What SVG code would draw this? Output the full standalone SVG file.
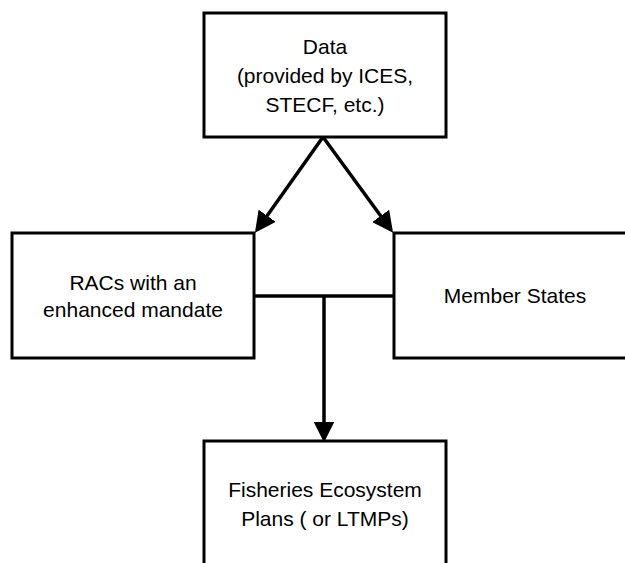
<svg xmlns="http://www.w3.org/2000/svg" width="625" height="563" viewBox="0 0 625 563">
<style>
.box{fill:#fff;stroke:#000;stroke-width:3}
.t{font-family:"Liberation Sans",Arial,sans-serif;font-size:21px;fill:#000;text-anchor:middle}
.c{stroke:#000;stroke-width:3.5;fill:none}
</style>
<defs>
<marker id="ah" markerWidth="6" markerHeight="6" refX="5" refY="3" orient="auto" markerUnits="strokeWidth">
<path d="M0,0 L6,3 L0,6 Z" fill="#000"/>
</marker>
</defs>
<rect width="625" height="563" fill="#fff"/>
<g id="data">
<rect class="box" x="204" y="13" width="242" height="124"/>
<text class="t" x="325" y="54">Data</text>
<text class="t" x="325" y="83">(provided by ICES,</text>
<text class="t" x="325" y="112">STECF, etc.)</text>
</g>
<g id="racs">
<rect class="box" x="12" y="233" width="242" height="125"/>
<text class="t" x="133" y="290">RACs with an</text>
<text class="t" x="133" y="317">enhanced mandate</text>
</g>
<g id="ms">
<path class="box" d="M640,233 H394 V358 H640"/>
<text class="t" x="515" y="303">Member States</text>
</g>
<g id="fep">
<path class="box" d="M204,570 V441 H446 V570"/>
<text class="t" x="325" y="497">Fisheries Ecosystem</text>
<text class="t" x="325" y="526">Plans ( or LTMPs)</text>
</g>
<g id="connectors">
<line class="c" x1="323" y1="137" x2="257" y2="230" marker-end="url(#ah)"/>
<line class="c" x1="323" y1="137" x2="391" y2="230" marker-end="url(#ah)"/>
<line class="c" x1="254" y1="296" x2="394" y2="296"/>
<line class="c" x1="324" y1="296" x2="324" y2="439" marker-end="url(#ah)"/>
</g>
</svg>
